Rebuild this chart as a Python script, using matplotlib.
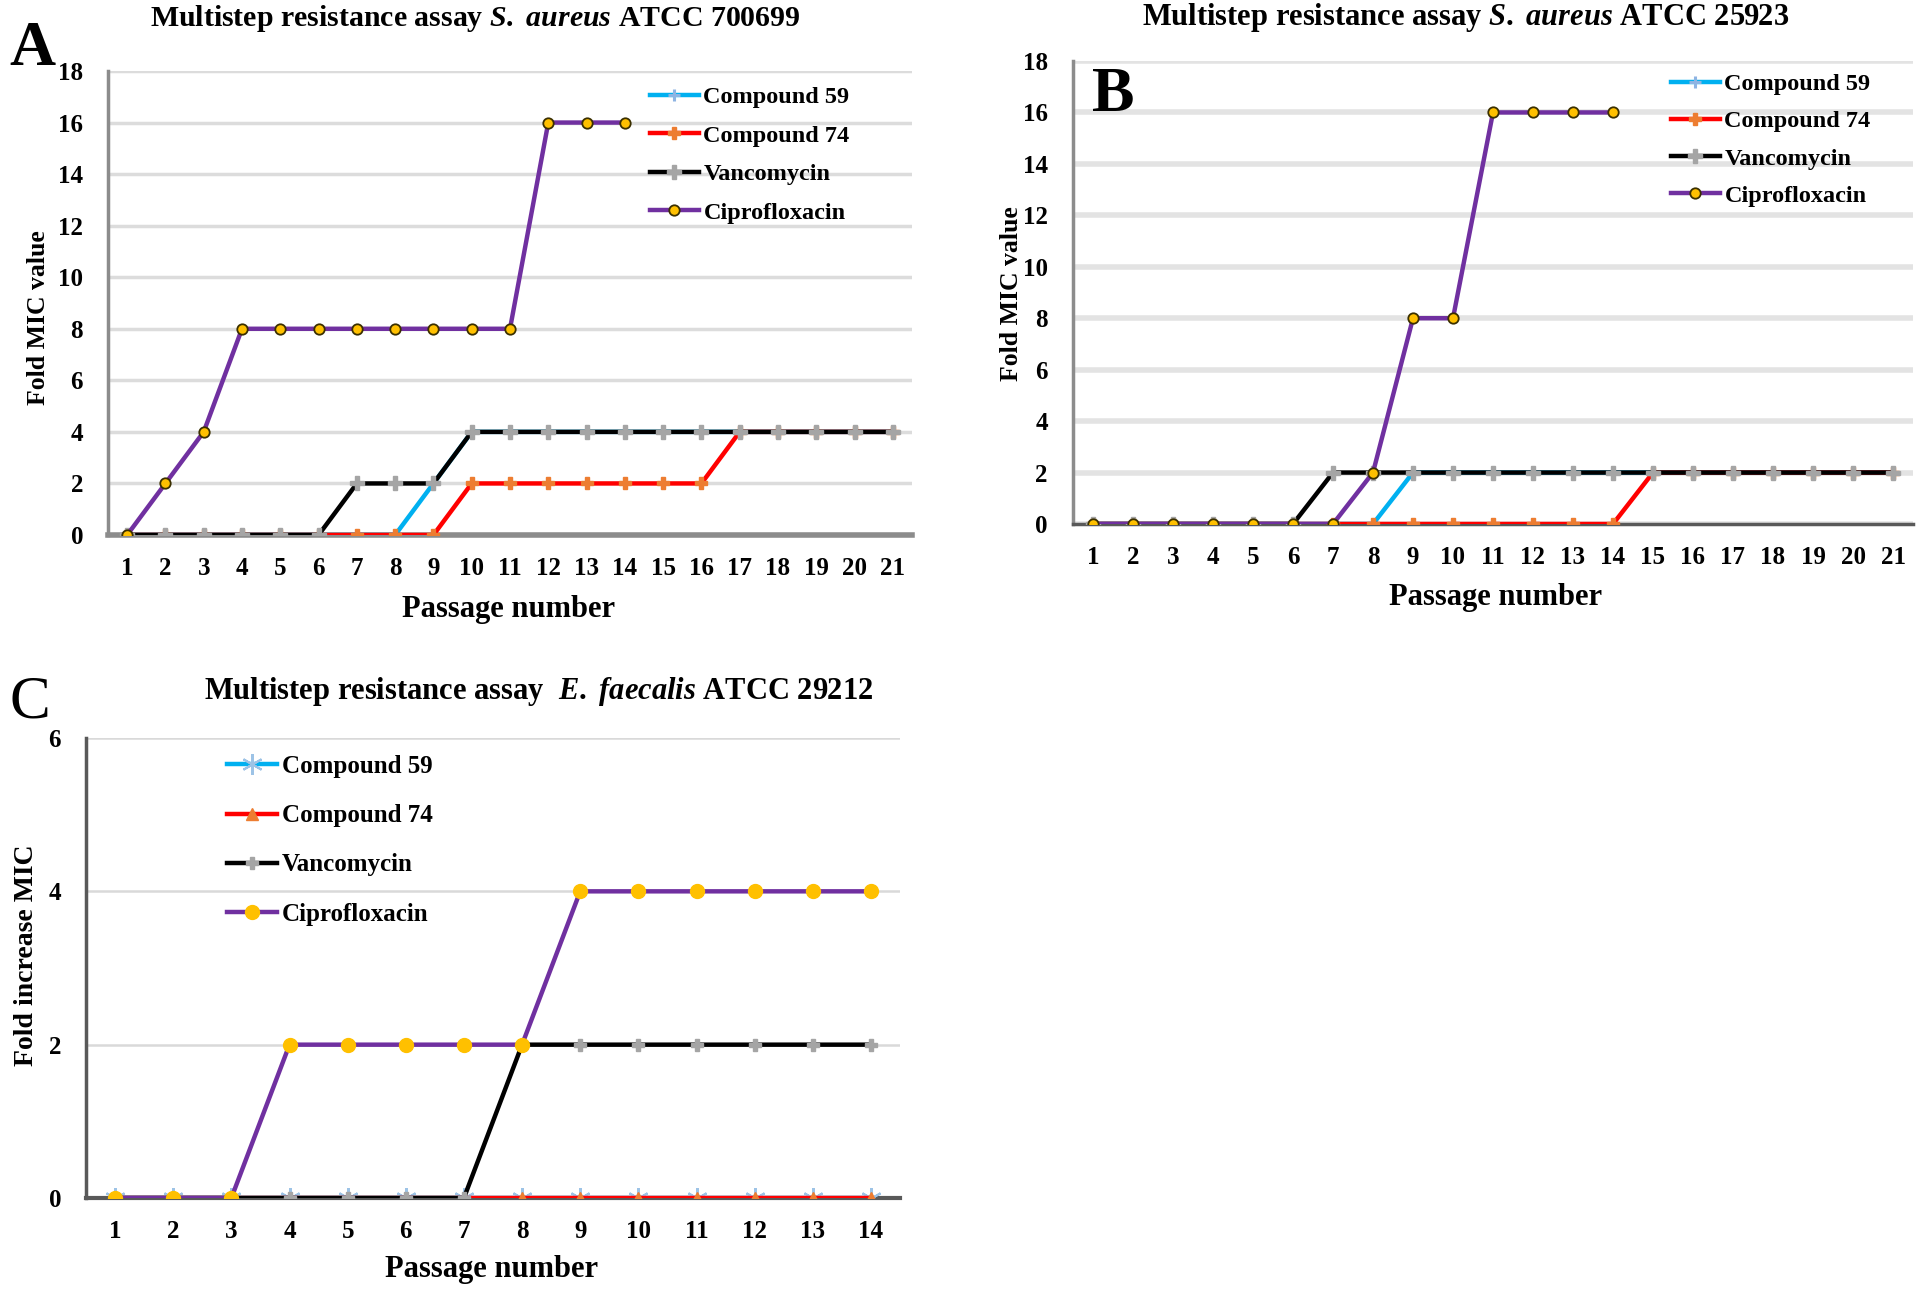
import matplotlib
matplotlib.use("Agg")
import matplotlib.pyplot as plt
import numpy as np

plt.rcParams['font.family'] = ['Liberation Serif', 'DejaVu Serif']
plt.rcParams['font.weight'] = 'bold'
plt.rcParams['mathtext.fontset'] = 'custom'
plt.rcParams['mathtext.rm'] = 'Liberation Serif:bold'
plt.rcParams['mathtext.it'] = 'Liberation Serif:bold:italic'
plt.rcParams['mathtext.bf'] = 'Liberation Serif:bold'

nan = np.nan
# ---------------- data ----------------
series_names = ["Compound 59", "Compound 74", "Vancomycin", "Ciprofloxacin"]

passages_A = list(range(1, 22))
c59_A = [0, 0, 0, 0, 0, 0, 0, 0, 2, 4, 4, 4, 4, 4, 4, 4, 4, 4, 4, 4, 4]
c74_A = [0, 0, 0, 0, 0, 0, 0, 0, 0, 2, 2, 2, 2, 2, 2, 2, 4, 4, 4, 4, 4]
van_A = [0, 0, 0, 0, 0, 0, 2, 2, 2, 4, 4, 4, 4, 4, 4, 4, 4, 4, 4, 4, 4]
cip_A = [0, 2, 4, 8, 8, 8, 8, 8, 8, 8, 8, 16, 16, 16, nan, nan, nan, nan, nan, nan, nan]

passages_B = list(range(1, 22))
c59_B = [0, 0, 0, 0, 0, 0, 0, 0, 2, 2, 2, 2, 2, 2, 2, 2, 2, 2, 2, 2, 2]
c74_B = [0, 0, 0, 0, 0, 0, 0, 0, 0, 0, 0, 0, 0, 0, 2, 2, 2, 2, 2, 2, 2]
van_B = [0, 0, 0, 0, 0, 0, 2, 2, 2, 2, 2, 2, 2, 2, 2, 2, 2, 2, 2, 2, 2]
cip_B = [0, 0, 0, 0, 0, 0, 0, 2, 8, 8, 16, 16, 16, 16, nan, nan, nan, nan, nan, nan, nan]

passages_C = list(range(1, 15))
c59_C = [0] * 14
c74_C = [0] * 14
van_C = [0, 0, 0, 0, 0, 0, 0, 2, 2, 2, 2, 2, 2, 2]
cip_C = [0, 0, 0, 2, 2, 2, 2, 2, 4, 4, 4, 4, 4, 4]

yticks_AB = list(range(0, 19, 2))
yticks_C = [0, 2, 4, 6]

titles = [
    r"Multistep resistance assay $\mathit{S.\ aureus}$ ATCC 700699",
    r"Multistep resistance assay $\mathit{S.\ aureus}$ ATCC 25923",
    r"Multistep resistance assay  $\mathit{E.\ faecalis}$ ATCC 29212",
]
ylabels = ["Fold MIC value", "Fold MIC value", "Fold increase MIC"]
xlabel = "Passage number"
panel_letters = ["A", "B", "C"]

W, H = 1920, 1290
fig = plt.figure(figsize=(19.2, 12.9), dpi=100)

def fx(x):
    return x / W

def fy(y):
    return 1 - y / H

def make_axes(left, top, right, bottom):
    return fig.add_axes([fx(left), fy(bottom), fx(right) - fx(left), fy(top) - fy(bottom)])

CYAN = '#00B0F0'
RED = '#FF0000'
ORANGE = '#ED7D31'
GRAYM = '#A5A5A5'
PURPLE = '#7030A0'
GOLD = '#FFC000'

def draw_panel(ax, x, c59, c74, van, cip, yticks, style):
    small = style != 'C'
    if small:
        m59 = dict(marker='+', ms=9, mew=2.2, color=CYAN, mec='#8EB4E3')
        m74 = dict(marker='P', ms=8, color=RED, mfc=ORANGE, mec=ORANGE)
        mv = dict(marker='P', ms=10, color='black', mfc=GRAYM, mec=GRAYM)
        mc = dict(marker='o', ms=7.5, color=PURPLE, mfc=GOLD, mec='#3b3000', mew=1.3)
    else:
        m59 = dict(marker=(6, 2, 0), ms=15, mew=1.5, color=CYAN, mec='#9DC3E6')
        m74 = dict(marker='^', ms=8, color=RED, mfc=ORANGE, mec=ORANGE)
        mv = dict(marker='P', ms=9, color='black', mfc=GRAYM, mec=GRAYM)
        mc = dict(marker='o', ms=10, color=PURPLE, mfc=GOLD, mec=GOLD)
    ax.plot(x, c59, lw=3.2, label=series_names[0], zorder=3, **m59)
    ax.plot(x, c74, lw=3.2, label=series_names[1], zorder=4, **m74)
    ax.plot(x, van, lw=3.2, label=series_names[2], zorder=5, **mv)
    ax.plot(x, cip, lw=3.2, label=series_names[3], zorder=6, **mc)
    ax.set_xlim(0.5, len(x) + 0.5)
    ax.set_ylim(0, yticks[-1])
    ax.set_yticks(yticks)
    ax.set_xticks(x)
    ax.set_xticklabels([str(v) for v in x])
    ax.tick_params(length=0, labelsize=18)
    ax.tick_params(axis='x', pad=16)
    ax.tick_params(axis='y', pad=18)
    for s in ['top', 'right']:
        ax.spines[s].set_visible(False)
    if style == 'A':
        ax.grid(axis='y', color='#DCDCDC', lw=2.5)
        ax.spines['left'].set_color('#8C8C8C')
        ax.spines['left'].set_linewidth(2.5)
        ax.spines['bottom'].set_color('#8C8C8C')
        ax.spines['bottom'].set_linewidth(4)
    elif style == 'B':
        ax.grid(axis='y', color='#E3E3E3', lw=4)
        ax.spines['left'].set_color('#8C8C8C')
        ax.spines['left'].set_linewidth(2.5)
        ax.spines['bottom'].set_color('#595959')
        ax.spines['bottom'].set_linewidth(2.5)
    else:
        ax.grid(axis='y', color='#D9D9D9', lw=1.8)
        ax.spines['left'].set_color('#595959')
        ax.spines['left'].set_linewidth(2.5)
        ax.spines['bottom'].set_color('#595959')
        ax.spines['bottom'].set_linewidth(3)
    ax.set_axisbelow(True)
    for lbl in ax.get_xticklabels() + ax.get_yticklabels():
        lbl.set_fontweight('bold')

axA = make_axes(108, 71, 912, 535)
draw_panel(axA, passages_A, c59_A, c74_A, van_A, cip_A, yticks_AB, 'A')
axB = make_axes(1073, 61, 1913, 524)
draw_panel(axB, passages_B, c59_B, c74_B, van_B, cip_B, yticks_AB, 'B')
axC = make_axes(86, 738, 900, 1198)
draw_panel(axC, passages_C, c59_C, c74_C, van_C, cip_C, yticks_C, 'C')

# legends
def add_legend(ax, x, y, spacing, fs):
    ax.legend(loc='upper left', bbox_to_anchor=(fx(x), fy(y)), bbox_transform=fig.transFigure,
              frameon=False, handlelength=2.0, handletextpad=0.2,
              labelspacing=spacing, borderpad=0, borderaxespad=0,
              prop={'weight': 'bold', 'size': fs})

add_legend(axA, 650, 86, 0.68, 17.5)
add_legend(axB, 1671, 73, 0.63, 17.5)
add_legend(axC, 227, 755, 1.05, 18)

# titles
fig.text(fx(475), fy(18), titles[0], ha='center', va='center', fontsize=21.5, fontweight='bold')
fig.text(fx(1466), fy(18), titles[1], ha='center', va='center', fontsize=22, fontweight='bold')
fig.text(fx(539), fy(691), titles[2], ha='center', va='center', fontsize=22, fontweight='bold')

# panel letters
fig.text(fx(32), fy(50), panel_letters[0], ha='center', va='center', fontsize=46, fontweight='bold')
fig.text(fx(1113), fy(96), panel_letters[1], ha='center', va='center', fontsize=46, fontweight='bold')
fig.text(fx(30), fy(703), panel_letters[2], ha='center', va='center', fontsize=44, fontweight='normal')

# axis labels
fig.text(fx(509), fy(609), xlabel, ha='center', va='center', fontsize=22, fontweight='bold')
fig.text(fx(1496), fy(598), xlabel, ha='center', va='center', fontsize=22, fontweight='bold')
fig.text(fx(492), fy(1270), xlabel, ha='center', va='center', fontsize=22, fontweight='bold')
fig.text(fx(39), fy(318), ylabels[0], ha='center', va='center', rotation=90, fontsize=18.5, fontweight='bold')
fig.text(fx(1011), fy(294), ylabels[1], ha='center', va='center', rotation=90, fontsize=18.5, fontweight='bold')
fig.text(fx(27), fy(955), ylabels[2], ha='center', va='center', rotation=90, fontsize=20, fontweight='bold')

fig.savefig("out.png", dpi=100)
